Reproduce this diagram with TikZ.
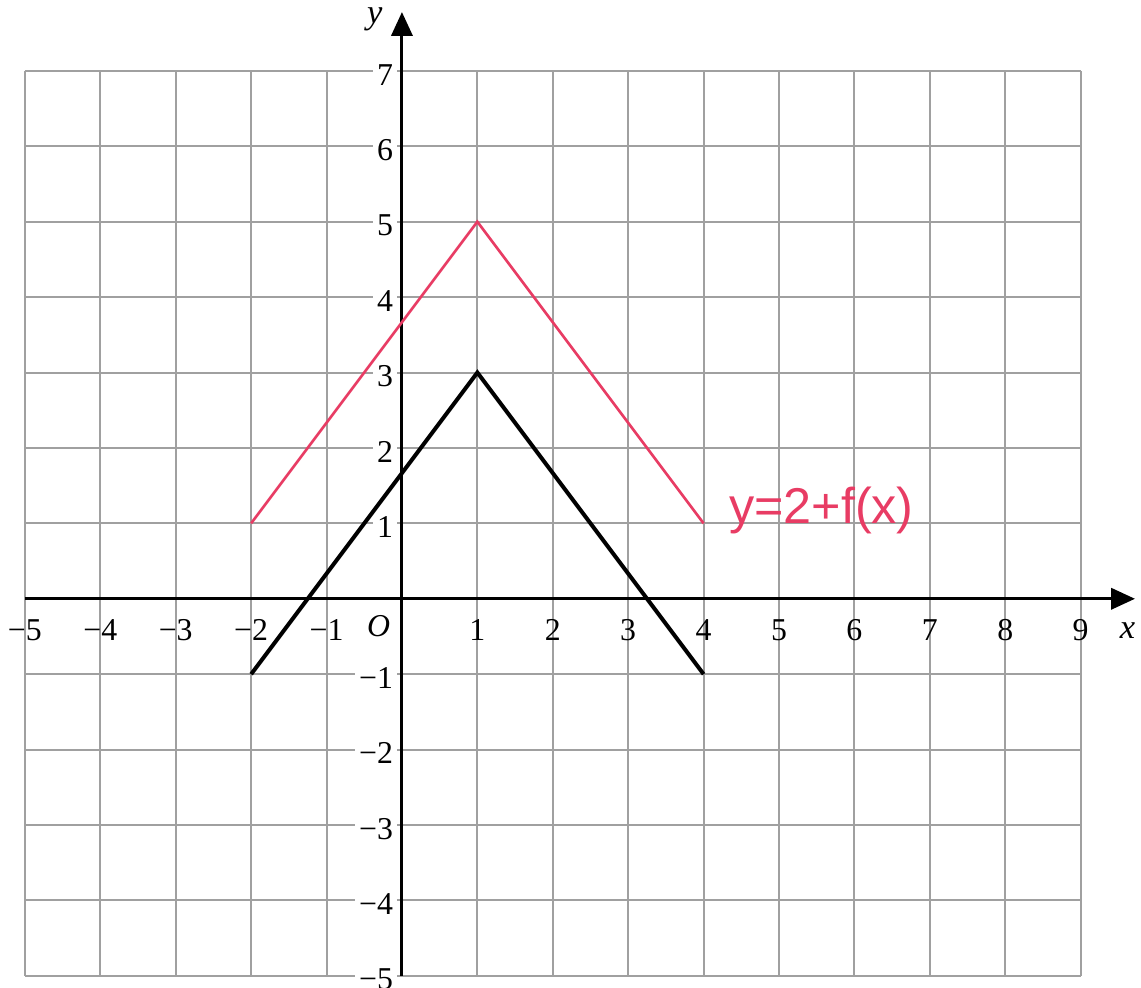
\documentclass[tikz,border=0pt]{standalone}
\usepackage{fontspec}
\setmainfont{Liberation Serif}
\newfontfamily\handfont{Liberation Sans}
\usetikzlibrary{arrows.meta}
\definecolor{gridgray}{RGB}{160,160,160}
\definecolor{penred}{RGB}{232,60,100}
\begin{document}
\begin{tikzpicture}[x=1cm,y=1cm,
  gridline/.style={draw=gridgray,line width=0.75pt},
  axisline/.style={draw=black,line width=1.1pt,-{Triangle[length=9pt,width=8pt]}},
  graphline/.style={draw=black,line width=1.5pt,line join=miter},
  redline/.style={draw=penred,line width=1pt},
  xlab/.style={font=\fontsize{12}{14}\selectfont,inner sep=1pt},
  ylab/.style={font=\fontsize{12}{14}\selectfont,inner sep=1.5pt,fill=white,anchor=east}]
\useasboundingbox (-5.33,-5.16) rectangle (9.80,7.94);
% grid
\foreach \i in {-5,...,9} {\draw[gridline] (\i,-5) -- (\i,7);}
\foreach \j in {-5,...,7} {\draw[gridline] (-5,\j) -- (9,\j);}
% y labels
\foreach \j/\t in {7/7,6/6,5/5,4/4,3/3,2/2,1/1,-1/−1,-2/−2,-3/−3,-4/−4,-5/−5} {\node[ylab] (yl\j) at (-0.06,\j-0.05) {\t};}
% x labels
\foreach \i/\t in {-5/−5,-4/−4,-3/−3,-2/−2,-1/−1,1/1,2/2,3/3,4/4,5/5,6/6,7/7,8/8,9/9} {\node[xlab] (xl\i) at (\i,-0.42) {\t};}
\node[xlab,font=\fontsize{12}{14}\selectfont\itshape] (O) at (-0.31,-0.36) {O};
% axes
\coordinate (xs) at (-5,0);
\coordinate (xe) at (9.72,0);
\coordinate (ys) at (0,-5);
\coordinate (ye) at (0,7.78);
\draw[axisline] (xs) -- (xe);
\draw[axisline] (ys) -- (ye);
\node[xlab,font=\fontsize{13}{15}\selectfont\itshape] (xname) at (9.62,-0.42) {x};
\node[xlab,font=\fontsize{13}{15}\selectfont\itshape] (yname) at (-0.36,7.68) {y};
% black graph
\coordinate (A) at (-2,-1);
\coordinate (B) at (1,3);
\coordinate (C) at (4,-1);
\draw[graphline] (A) -- (B) -- (C);
% red graph
\coordinate (D) at (-2,1);
\coordinate (E) at (1,5);
\coordinate (F) at (4,1);
\draw[redline] (D) -- (E) -- (F);
\node[anchor=west,text=penred,inner sep=0pt,font=\handfont\fontsize{19}{22}\selectfont] (lab) at (4.33,1.17) {y=2+f(x)};
\end{tikzpicture}
\end{document}
